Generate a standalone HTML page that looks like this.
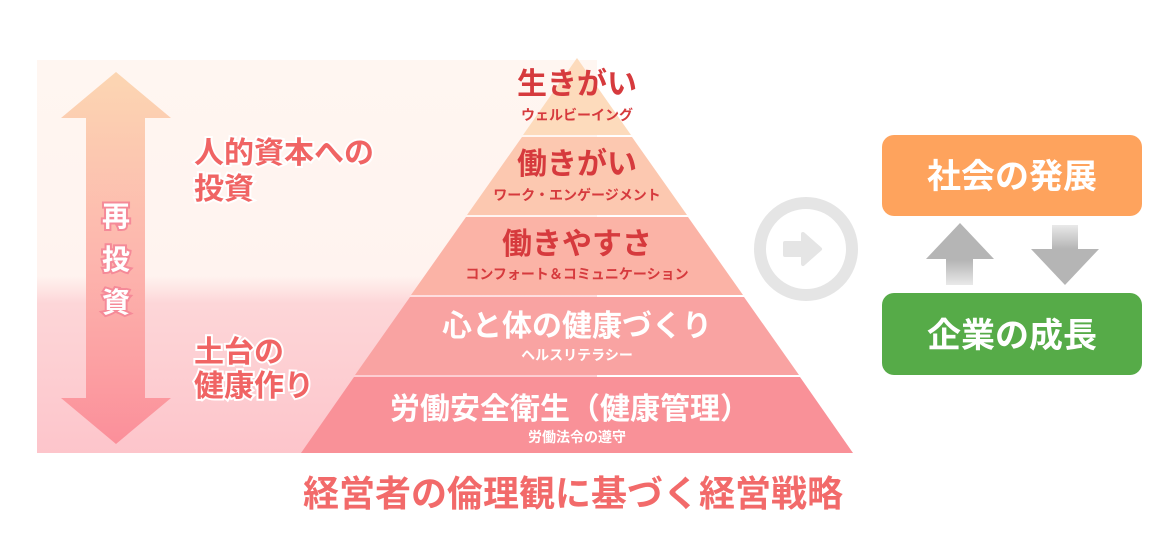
<!DOCTYPE html>
<html><head><meta charset="utf-8"><style>
body{margin:0;width:1154px;height:541px;background:#fff;overflow:hidden;font-family:"Liberation Sans","Noto Sans CJK JP",sans-serif}
svg text{font-family:"Liberation Sans","Noto Sans CJK JP",sans-serif}
</style></head><body>
<svg width="1154" height="541" viewBox="0 0 1154 541">
<defs>
<linearGradient id="bg" x1="0" y1="0" x2="0" y2="1">
<stop offset="0" stop-color="#fff6f1"/><stop offset="0.55" stop-color="#fff3ef"/><stop offset="0.62" stop-color="#fdd6d8"/><stop offset="1" stop-color="#fdc5cb"/></linearGradient>
<linearGradient id="ar" x1="0" y1="0" x2="0" y2="1">
<stop offset="0" stop-color="#fcd6b2"/><stop offset="0.5" stop-color="#fdb6ae"/><stop offset="1" stop-color="#fb8f9a"/></linearGradient>
<linearGradient id="gu" x1="0" y1="0" x2="0" y2="1"><stop offset="0.6" stop-color="#b5b5b5"/><stop offset="1" stop-color="#b5b5b5" stop-opacity="0.3"/></linearGradient>
<linearGradient id="gd" x1="0" y1="1" x2="0" y2="0"><stop offset="0.6" stop-color="#b5b5b5"/><stop offset="1" stop-color="#b5b5b5" stop-opacity="0.3"/></linearGradient>
</defs>
<rect x="37" y="60" width="560" height="393" fill="url(#bg)"/>
<polygon points="116,72 171,118 145,118 145,398 171,398 116,444 61,398 86,398 86,118 61,118" fill="url(#ar)"/>
<g font-size="28" font-weight="bold" fill="#fff" stroke="#f58a98" stroke-width="4" paint-order="stroke" text-anchor="middle">
<text x="116" y="226">再</text><text x="116" y="269">投</text><text x="116" y="312">資</text></g>
<g font-size="30" font-weight="bold" fill="#f06464" stroke="#fff" stroke-width="4" paint-order="stroke">
<text x="194" y="163">人的資本への</text><text x="194" y="199">投資</text>
<text x="194" y="362">土台の</text><text x="194" y="396">健康作り</text></g>
<!-- pyramid -->
<polygon points="577,58 631,135 523,135" fill="#fddbbc"/>
<polygon points="522,137 632,137 687,215 467,215" fill="#fcc8b0"/>
<polygon points="466,217 688,217 743,295 411,295" fill="#fbb3a6"/>
<polygon points="410,297 744,297 799,375 355,375" fill="#f9a3a2"/>
<polygon points="354,377 800,377 853,453 301,453" fill="#f99198"/>
<g text-anchor="middle" font-weight="bold">
<text x="577" y="94" font-size="30" fill="#d63a3d">生きがい</text>
<text x="577" y="120" font-size="14" fill="#d63a3d">ウェルビーイング</text>
<text x="577" y="174" font-size="30" fill="#d63a3d">働きがい</text>
<text x="577" y="200" font-size="14" fill="#d63a3d">ワーク・エンゲージメント</text>
<text x="577" y="254" font-size="30" fill="#d63a3d">働きやすさ</text>
<text x="577" y="279" font-size="14" fill="#d63a3d">コンフォート＆コミュニケーション</text>
<text x="577" y="336" font-size="30" fill="#fff">心と体の健康づくり</text>
<text x="577" y="360" font-size="14" fill="#fff">ヘルスリテラシー</text>
<text x="570" y="419" font-size="30" fill="#fff">労働安全衛生（健康管理）</text>
<text x="577" y="442" font-size="14" fill="#fff">労働法令の遵守</text>
</g>
<text x="573" y="506" font-size="36" font-weight="bold" fill="#f26a6a" text-anchor="middle">経営者の倫理観に基づく経営戦略</text>
<!-- circle arrow -->
<circle cx="806" cy="249" r="46" fill="none" stroke="#e5e5e5" stroke-width="12"/>
<polygon points="785,243 803,243 803,234 820,249 803,264 803,255 785,255" fill="#e5e5e5" stroke="#e5e5e5" stroke-width="4" stroke-linejoin="round"/>
<!-- boxes -->
<rect x="882" y="135" width="260" height="81" rx="12" fill="#fea35d"/>
<text x="1012" y="188" font-size="34" font-weight="bold" fill="#fff" text-anchor="middle">社会の発展</text>
<rect x="882" y="293" width="260" height="82" rx="12" fill="#56ab48"/>
<text x="1012" y="347" font-size="34" font-weight="bold" fill="#fff" text-anchor="middle">企業の成長</text>
<polygon points="960,223 994,259 973,259 973,285 946,285 946,259 926,259" fill="url(#gu)"/>
<polygon points="1052,225 1078,225 1078,249 1099,249 1065,285 1031,249 1052,249" fill="url(#gd)"/>
</svg>
</body></html>
